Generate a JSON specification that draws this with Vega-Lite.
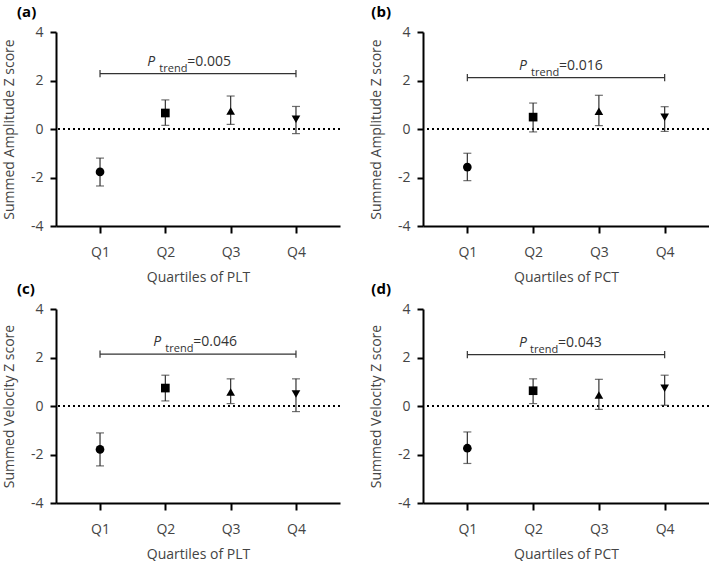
{
  "$schema": "https://vega.github.io/schema/vega-lite/v6.json",
  "background": "white",
  "padding": {"left": 2, "top": 5, "right": 0, "bottom": 0},
  "datasets": {
    "points": [
      {"panel": "a", "quartile": "Q1", "mean": -1.77, "lo": -2.35, "hi": -1.20},
      {"panel": "a", "quartile": "Q2", "mean": 0.66, "lo": 0.15, "hi": 1.20},
      {"panel": "a", "quartile": "Q3", "mean": 0.74, "lo": 0.19, "hi": 1.36},
      {"panel": "a", "quartile": "Q4", "mean": 0.40, "lo": -0.19, "hi": 0.93},
      {"panel": "b", "quartile": "Q1", "mean": -1.57, "lo": -2.13, "hi": -1.00},
      {"panel": "b", "quartile": "Q2", "mean": 0.49, "lo": -0.12, "hi": 1.07},
      {"panel": "b", "quartile": "Q3", "mean": 0.73, "lo": 0.14, "hi": 1.39},
      {"panel": "b", "quartile": "Q4", "mean": 0.48, "lo": -0.10, "hi": 0.92},
      {"panel": "c", "quartile": "Q1", "mean": -1.79, "lo": -2.47, "hi": -1.11},
      {"panel": "c", "quartile": "Q2", "mean": 0.74, "lo": 0.21, "hi": 1.27},
      {"panel": "c", "quartile": "Q3", "mean": 0.58, "lo": 0.10, "hi": 1.12},
      {"panel": "c", "quartile": "Q4", "mean": 0.49, "lo": -0.23, "hi": 1.12},
      {"panel": "d", "quartile": "Q1", "mean": -1.74, "lo": -2.37, "hi": -1.07},
      {"panel": "d", "quartile": "Q2", "mean": 0.63, "lo": 0.10, "hi": 1.12},
      {"panel": "d", "quartile": "Q3", "mean": 0.45, "lo": -0.14, "hi": 1.10},
      {"panel": "d", "quartile": "Q4", "mean": 0.73, "lo": 0.03, "hi": 1.27}
    ],
    "trend": [
      {"panel": "a", "tag": "(a)", "tag_y": 4, "start": "Q1", "end": "Q4", "label_at": "Q2", "y": 2.28, "cap_lo": 2.13, "cap_hi": 2.43, "p": "=0.005"},
      {"panel": "b", "tag": "(b)", "tag_y": 4, "start": "Q1", "end": "Q4", "label_at": "Q2", "y": 2.12, "cap_lo": 1.97, "cap_hi": 2.27, "p": "=0.016"},
      {"panel": "c", "tag": "(c)", "tag_y": 4, "start": "Q1", "end": "Q4", "label_at": "Q2", "y": 2.14, "cap_lo": 1.99, "cap_hi": 2.29, "p": "=0.046"},
      {"panel": "d", "tag": "(d)", "tag_y": 4, "start": "Q1", "end": "Q4", "label_at": "Q2", "y": 2.12, "cap_lo": 1.97, "cap_hi": 2.27, "p": "=0.043"}
    ]
  },
  "vconcat": [
    {
      "hconcat": [
        {
          "width": 284, "height": 194,
          "layer": [
            {"data": {"values": [{"z": 0}]}, "mark": {"type": "rule", "strokeDash": [2, 3], "strokeWidth": 2, "color": "black"},
             "encoding": {"y": {"field": "z", "type": "quantitative", "scale": {"domain": [-4, 4], "nice": false}, "axis": {"title": "Summed Amplitude Z score", "values": [-4, -2, 0, 2, 4]}}}},
            {"data": {"name": "points"}, "transform": [{"filter": "datum.panel == 'a'"}], "mark": {"type": "rule", "color": "#333", "strokeWidth": 1.2},
             "encoding": {"x": {"field": "quartile", "type": "nominal", "scale": {"type": "point", "domain": ["Q1", "Q2", "Q3", "Q4"], "padding": 0.674}, "axis": {"title": "Quartiles of PLT", "labelAngle": 0}}, "y": {"field": "lo", "type": "quantitative"}, "y2": {"field": "hi"}}},
            {"data": {"name": "points"}, "transform": [{"filter": "datum.panel == 'a'"}, {"fold": ["lo", "hi"], "as": ["bound", "val"]}], "mark": {"type": "tick", "color": "#333", "thickness": 1.2, "size": 8},
             "encoding": {"x": {"field": "quartile", "type": "nominal"}, "y": {"field": "val", "type": "quantitative"}}},
            {"data": {"name": "points"}, "transform": [{"filter": "datum.panel == 'a'"}], "mark": {"type": "point", "filled": true, "opacity": 1, "color": "black", "size": 75},
             "encoding": {"x": {"field": "quartile", "type": "nominal"}, "y": {"field": "mean", "type": "quantitative"}, "shape": {"field": "quartile", "type": "nominal", "scale": {"domain": ["Q1", "Q2", "Q3", "Q4"], "range": ["circle", "square", "triangle-up", "triangle-down"]}, "legend": null}}},
            {"data": {"name": "trend"}, "transform": [{"filter": "datum.panel == 'a'"}], "mark": {"type": "rule", "color": "#333", "strokeWidth": 1.2},
             "encoding": {"x": {"field": "start", "type": "nominal"}, "x2": {"field": "end"}, "y": {"field": "y", "type": "quantitative"}}},
            {"data": {"name": "trend"}, "transform": [{"filter": "datum.panel == 'a'"}, {"fold": ["start", "end"], "as": ["side", "pos"]}], "mark": {"type": "rule", "color": "#333", "strokeWidth": 1.2},
             "encoding": {"x": {"field": "pos", "type": "nominal"}, "y": {"field": "cap_lo", "type": "quantitative"}, "y2": {"field": "cap_hi"}}},
            {"data": {"name": "trend"}, "transform": [{"filter": "datum.panel == 'a'"}], "mark": {"type": "text", "text": "P", "fontStyle": "italic", "fontSize": 14, "font": "Open Sans", "align": "left", "baseline": "alphabetic", "dx": -18, "dy": -8, "color": "#333"},
             "encoding": {"x": {"field": "label_at", "type": "nominal"}, "y": {"field": "y", "type": "quantitative"}}},
            {"data": {"name": "trend"}, "transform": [{"filter": "datum.panel == 'a'"}], "mark": {"type": "text", "text": "trend", "fontSize": 11, "font": "Open Sans", "align": "left", "baseline": "alphabetic", "dx": -6, "dy": -2, "color": "#333"},
             "encoding": {"x": {"field": "label_at", "type": "nominal"}, "y": {"field": "y", "type": "quantitative"}}},
            {"data": {"name": "trend"}, "transform": [{"filter": "datum.panel == 'a'"}], "mark": {"type": "text", "fontSize": 14, "font": "Open Sans", "align": "left", "baseline": "alphabetic", "dx": 22, "dy": -8, "color": "#333"},
             "encoding": {"x": {"field": "label_at", "type": "nominal"}, "y": {"field": "y", "type": "quantitative"}, "text": {"field": "p"}}},
            {"data": {"name": "trend"}, "transform": [{"filter": "datum.panel == 'a'"}], "mark": {"type": "text", "fontSize": 15, "fontWeight": "bold", "font": "Open Sans", "align": "left", "baseline": "middle", "dx": -83, "dy": -20, "color": "black"},
             "encoding": {"x": {"field": "start", "type": "nominal"}, "y": {"field": "tag_y", "type": "quantitative"}, "text": {"field": "tag"}}}
          ]
        },
        {
          "width": 286, "height": 194,
          "layer": [
            {"data": {"values": [{"z": 0}]}, "mark": {"type": "rule", "strokeDash": [2, 3], "strokeWidth": 2, "color": "black"},
             "encoding": {"y": {"field": "z", "type": "quantitative", "scale": {"domain": [-4, 4], "nice": false}, "axis": {"title": "Summed Amplitude Z score", "values": [-4, -2, 0, 2, 4]}}}},
            {"data": {"name": "points"}, "transform": [{"filter": "datum.panel == 'b'"}], "mark": {"type": "rule", "color": "#333", "strokeWidth": 1.2},
             "encoding": {"x": {"field": "quartile", "type": "nominal", "scale": {"type": "point", "domain": ["Q1", "Q2", "Q3", "Q4"], "padding": 0.674}, "axis": {"title": "Quartiles of PCT", "labelAngle": 0}}, "y": {"field": "lo", "type": "quantitative"}, "y2": {"field": "hi"}}},
            {"data": {"name": "points"}, "transform": [{"filter": "datum.panel == 'b'"}, {"fold": ["lo", "hi"], "as": ["bound", "val"]}], "mark": {"type": "tick", "color": "#333", "thickness": 1.2, "size": 8},
             "encoding": {"x": {"field": "quartile", "type": "nominal"}, "y": {"field": "val", "type": "quantitative"}}},
            {"data": {"name": "points"}, "transform": [{"filter": "datum.panel == 'b'"}], "mark": {"type": "point", "filled": true, "opacity": 1, "color": "black", "size": 75},
             "encoding": {"x": {"field": "quartile", "type": "nominal"}, "y": {"field": "mean", "type": "quantitative"}, "shape": {"field": "quartile", "type": "nominal", "scale": {"domain": ["Q1", "Q2", "Q3", "Q4"], "range": ["circle", "square", "triangle-up", "triangle-down"]}, "legend": null}}},
            {"data": {"name": "trend"}, "transform": [{"filter": "datum.panel == 'b'"}], "mark": {"type": "rule", "color": "#333", "strokeWidth": 1.2},
             "encoding": {"x": {"field": "start", "type": "nominal"}, "x2": {"field": "end"}, "y": {"field": "y", "type": "quantitative"}}},
            {"data": {"name": "trend"}, "transform": [{"filter": "datum.panel == 'b'"}, {"fold": ["start", "end"], "as": ["side", "pos"]}], "mark": {"type": "rule", "color": "#333", "strokeWidth": 1.2},
             "encoding": {"x": {"field": "pos", "type": "nominal"}, "y": {"field": "cap_lo", "type": "quantitative"}, "y2": {"field": "cap_hi"}}},
            {"data": {"name": "trend"}, "transform": [{"filter": "datum.panel == 'b'"}], "mark": {"type": "text", "text": "P", "fontStyle": "italic", "fontSize": 14, "font": "Open Sans", "align": "left", "baseline": "alphabetic", "dx": -14, "dy": -8, "color": "#333"},
             "encoding": {"x": {"field": "label_at", "type": "nominal"}, "y": {"field": "y", "type": "quantitative"}}},
            {"data": {"name": "trend"}, "transform": [{"filter": "datum.panel == 'b'"}], "mark": {"type": "text", "text": "trend", "fontSize": 11, "font": "Open Sans", "align": "left", "baseline": "alphabetic", "dx": -2, "dy": -2, "color": "#333"},
             "encoding": {"x": {"field": "label_at", "type": "nominal"}, "y": {"field": "y", "type": "quantitative"}}},
            {"data": {"name": "trend"}, "transform": [{"filter": "datum.panel == 'b'"}], "mark": {"type": "text", "fontSize": 14, "font": "Open Sans", "align": "left", "baseline": "alphabetic", "dx": 26, "dy": -8, "color": "#333"},
             "encoding": {"x": {"field": "label_at", "type": "nominal"}, "y": {"field": "y", "type": "quantitative"}, "text": {"field": "p"}}},
            {"data": {"name": "trend"}, "transform": [{"filter": "datum.panel == 'b'"}], "mark": {"type": "text", "fontSize": 15, "fontWeight": "bold", "font": "Open Sans", "align": "left", "baseline": "middle", "dx": -96, "dy": -20, "color": "black"},
             "encoding": {"x": {"field": "start", "type": "nominal"}, "y": {"field": "tag_y", "type": "quantitative"}, "text": {"field": "tag"}}}
          ]
        }
      ]
    },
    {
      "hconcat": [
        {
          "width": 284, "height": 194,
          "layer": [
            {"data": {"values": [{"z": 0}]}, "mark": {"type": "rule", "strokeDash": [2, 3], "strokeWidth": 2, "color": "black"},
             "encoding": {"y": {"field": "z", "type": "quantitative", "scale": {"domain": [-4, 4], "nice": false}, "axis": {"title": "Summed Velocity Z score", "values": [-4, -2, 0, 2, 4]}}}},
            {"data": {"name": "points"}, "transform": [{"filter": "datum.panel == 'c'"}], "mark": {"type": "rule", "color": "#333", "strokeWidth": 1.2},
             "encoding": {"x": {"field": "quartile", "type": "nominal", "scale": {"type": "point", "domain": ["Q1", "Q2", "Q3", "Q4"], "padding": 0.674}, "axis": {"title": "Quartiles of PLT", "labelAngle": 0}}, "y": {"field": "lo", "type": "quantitative"}, "y2": {"field": "hi"}}},
            {"data": {"name": "points"}, "transform": [{"filter": "datum.panel == 'c'"}, {"fold": ["lo", "hi"], "as": ["bound", "val"]}], "mark": {"type": "tick", "color": "#333", "thickness": 1.2, "size": 8},
             "encoding": {"x": {"field": "quartile", "type": "nominal"}, "y": {"field": "val", "type": "quantitative"}}},
            {"data": {"name": "points"}, "transform": [{"filter": "datum.panel == 'c'"}], "mark": {"type": "point", "filled": true, "opacity": 1, "color": "black", "size": 75},
             "encoding": {"x": {"field": "quartile", "type": "nominal"}, "y": {"field": "mean", "type": "quantitative"}, "shape": {"field": "quartile", "type": "nominal", "scale": {"domain": ["Q1", "Q2", "Q3", "Q4"], "range": ["circle", "square", "triangle-up", "triangle-down"]}, "legend": null}}},
            {"data": {"name": "trend"}, "transform": [{"filter": "datum.panel == 'c'"}], "mark": {"type": "rule", "color": "#333", "strokeWidth": 1.2},
             "encoding": {"x": {"field": "start", "type": "nominal"}, "x2": {"field": "end"}, "y": {"field": "y", "type": "quantitative"}}},
            {"data": {"name": "trend"}, "transform": [{"filter": "datum.panel == 'c'"}, {"fold": ["start", "end"], "as": ["side", "pos"]}], "mark": {"type": "rule", "color": "#333", "strokeWidth": 1.2},
             "encoding": {"x": {"field": "pos", "type": "nominal"}, "y": {"field": "cap_lo", "type": "quantitative"}, "y2": {"field": "cap_hi"}}},
            {"data": {"name": "trend"}, "transform": [{"filter": "datum.panel == 'c'"}], "mark": {"type": "text", "text": "P", "fontStyle": "italic", "fontSize": 14, "font": "Open Sans", "align": "left", "baseline": "alphabetic", "dx": -12, "dy": -8, "color": "#333"},
             "encoding": {"x": {"field": "label_at", "type": "nominal"}, "y": {"field": "y", "type": "quantitative"}}},
            {"data": {"name": "trend"}, "transform": [{"filter": "datum.panel == 'c'"}], "mark": {"type": "text", "text": "trend", "fontSize": 11, "font": "Open Sans", "align": "left", "baseline": "alphabetic", "dx": 0, "dy": -2, "color": "#333"},
             "encoding": {"x": {"field": "label_at", "type": "nominal"}, "y": {"field": "y", "type": "quantitative"}}},
            {"data": {"name": "trend"}, "transform": [{"filter": "datum.panel == 'c'"}], "mark": {"type": "text", "fontSize": 14, "font": "Open Sans", "align": "left", "baseline": "alphabetic", "dx": 28, "dy": -8, "color": "#333"},
             "encoding": {"x": {"field": "label_at", "type": "nominal"}, "y": {"field": "y", "type": "quantitative"}, "text": {"field": "p"}}},
            {"data": {"name": "trend"}, "transform": [{"filter": "datum.panel == 'c'"}], "mark": {"type": "text", "fontSize": 15, "fontWeight": "bold", "font": "Open Sans", "align": "left", "baseline": "middle", "dx": -83, "dy": -20, "color": "black"},
             "encoding": {"x": {"field": "start", "type": "nominal"}, "y": {"field": "tag_y", "type": "quantitative"}, "text": {"field": "tag"}}}
          ]
        },
        {
          "width": 286, "height": 194,
          "layer": [
            {"data": {"values": [{"z": 0}]}, "mark": {"type": "rule", "strokeDash": [2, 3], "strokeWidth": 2, "color": "black"},
             "encoding": {"y": {"field": "z", "type": "quantitative", "scale": {"domain": [-4, 4], "nice": false}, "axis": {"title": "Summed Velocity Z score", "values": [-4, -2, 0, 2, 4]}}}},
            {"data": {"name": "points"}, "transform": [{"filter": "datum.panel == 'd'"}], "mark": {"type": "rule", "color": "#333", "strokeWidth": 1.2},
             "encoding": {"x": {"field": "quartile", "type": "nominal", "scale": {"type": "point", "domain": ["Q1", "Q2", "Q3", "Q4"], "padding": 0.674}, "axis": {"title": "Quartiles of PCT", "labelAngle": 0}}, "y": {"field": "lo", "type": "quantitative"}, "y2": {"field": "hi"}}},
            {"data": {"name": "points"}, "transform": [{"filter": "datum.panel == 'd'"}, {"fold": ["lo", "hi"], "as": ["bound", "val"]}], "mark": {"type": "tick", "color": "#333", "thickness": 1.2, "size": 8},
             "encoding": {"x": {"field": "quartile", "type": "nominal"}, "y": {"field": "val", "type": "quantitative"}}},
            {"data": {"name": "points"}, "transform": [{"filter": "datum.panel == 'd'"}], "mark": {"type": "point", "filled": true, "opacity": 1, "color": "black", "size": 75},
             "encoding": {"x": {"field": "quartile", "type": "nominal"}, "y": {"field": "mean", "type": "quantitative"}, "shape": {"field": "quartile", "type": "nominal", "scale": {"domain": ["Q1", "Q2", "Q3", "Q4"], "range": ["circle", "square", "triangle-up", "triangle-down"]}, "legend": null}}},
            {"data": {"name": "trend"}, "transform": [{"filter": "datum.panel == 'd'"}], "mark": {"type": "rule", "color": "#333", "strokeWidth": 1.2},
             "encoding": {"x": {"field": "start", "type": "nominal"}, "x2": {"field": "end"}, "y": {"field": "y", "type": "quantitative"}}},
            {"data": {"name": "trend"}, "transform": [{"filter": "datum.panel == 'd'"}, {"fold": ["start", "end"], "as": ["side", "pos"]}], "mark": {"type": "rule", "color": "#333", "strokeWidth": 1.2},
             "encoding": {"x": {"field": "pos", "type": "nominal"}, "y": {"field": "cap_lo", "type": "quantitative"}, "y2": {"field": "cap_hi"}}},
            {"data": {"name": "trend"}, "transform": [{"filter": "datum.panel == 'd'"}], "mark": {"type": "text", "text": "P", "fontStyle": "italic", "fontSize": 14, "font": "Open Sans", "align": "left", "baseline": "alphabetic", "dx": -14, "dy": -8, "color": "#333"},
             "encoding": {"x": {"field": "label_at", "type": "nominal"}, "y": {"field": "y", "type": "quantitative"}}},
            {"data": {"name": "trend"}, "transform": [{"filter": "datum.panel == 'd'"}], "mark": {"type": "text", "text": "trend", "fontSize": 11, "font": "Open Sans", "align": "left", "baseline": "alphabetic", "dx": -3, "dy": -2, "color": "#333"},
             "encoding": {"x": {"field": "label_at", "type": "nominal"}, "y": {"field": "y", "type": "quantitative"}}},
            {"data": {"name": "trend"}, "transform": [{"filter": "datum.panel == 'd'"}], "mark": {"type": "text", "fontSize": 14, "font": "Open Sans", "align": "left", "baseline": "alphabetic", "dx": 25, "dy": -8, "color": "#333"},
             "encoding": {"x": {"field": "label_at", "type": "nominal"}, "y": {"field": "y", "type": "quantitative"}, "text": {"field": "p"}}},
            {"data": {"name": "trend"}, "transform": [{"filter": "datum.panel == 'd'"}], "mark": {"type": "text", "fontSize": 15, "fontWeight": "bold", "font": "Open Sans", "align": "left", "baseline": "middle", "dx": -96, "dy": -20, "color": "black"},
             "encoding": {"x": {"field": "start", "type": "nominal"}, "y": {"field": "tag_y", "type": "quantitative"}, "text": {"field": "tag"}}}
          ]
        }
      ],
      "spacing": 28
    }
  ],
  "spacing": -2,
  "config": {
    "concat": {"spacing": 28},
    "view": {"stroke": null},
    "axis": {
      "grid": false,
      "domainColor": "black", "domainWidth": 2,
      "tickColor": "black", "tickWidth": 2,
      "labelFont": "Open Sans", "labelFontSize": 14, "labelColor": "#444",
      "titleFont": "Open Sans", "titleFontSize": 14, "titleFontWeight": "normal", "titleColor": "#444"
    },
    "axisY": {"tickSize": 6, "labelPadding": 7, "titlePadding": 14, "labelExpr": "replace(datum.label, '\u2212', '-')"},
    "axisX": {"tickSize": 7, "labelPadding": 12, "titlePadding": 11}
  }
}
